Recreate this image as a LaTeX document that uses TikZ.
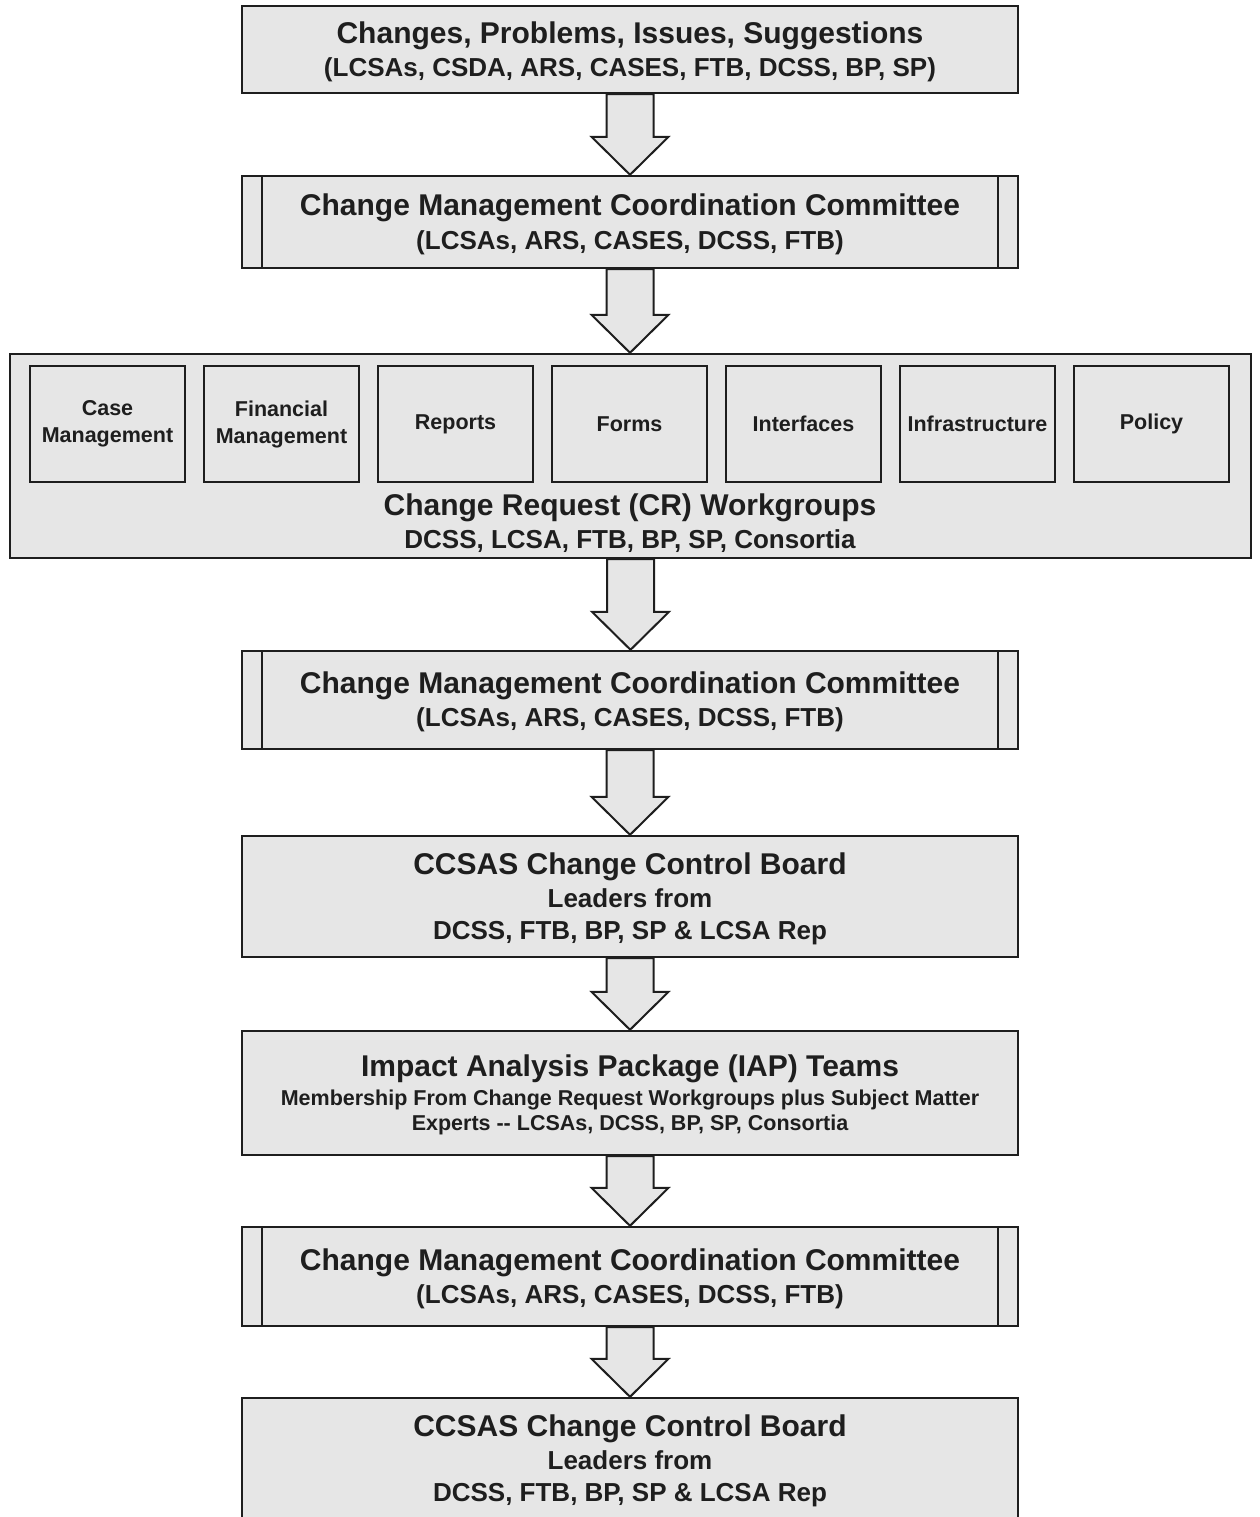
\documentclass[tikz,border=0pt]{standalone}
\usepackage{fontspec}
\setmainfont{Liberation Sans}
\usetikzlibrary{calc,positioning}
\definecolor{boxgray}{HTML}{E6E6E6}
\definecolor{linegray}{HTML}{1E1E1E}
\newcommand{\ttl}{\fontsize{30}{32}\selectfont\rule{0pt}{26pt}}
\newcommand{\subt}{\fontsize{26}{32}\selectfont}
\newcommand{\minor}{\fontsize{21.5}{32}\selectfont}
\tikzstyle{every picture}=[x=1pt, y=-1pt, line width=2.4pt, node distance=174pt]
\tikzstyle{stage}=[draw=linegray, fill=boxgray, text=linegray, minimum width=776pt,%
	align=center, inner sep=0pt, font=\bfseries\fontsize{26}{32}\selectfont]
\tikzstyle{cmcc}=[stage, minimum height=98pt, path picture={
	\draw[linegray] ([xshift=20pt]path picture bounding box.north west) -- ([xshift=20pt]path picture bounding box.south west)
		([xshift=-20pt]path picture bounding box.north east) -- ([xshift=-20pt]path picture bounding box.south east);}]
\tikzstyle{group}=[draw=linegray, fill=boxgray, text=linegray, minimum width=155pt,%
	minimum height=116pt, align=center, inner sep=0pt, font=\bfseries\fontsize{21.5}{27}\selectfont]
% big hollow arrow from one box down to the next
\newcommand{\flowarrow}[2]{%
	\draw[fill=boxgray, draw=linegray, line width=2pt] let \p1=(#1.south), \p2=(#2.north) in
		(\x1-23.5pt,\y1) -- (\x1-23.5pt,\y2+38pt) -- (\x1-38.5pt,\y2+38pt) -- (\x1,\y2)
		-- (\x1+38.5pt,\y2+38pt) -- (\x1+23.5pt,\y2+38pt) -- (\x1+23.5pt,\y1) -- cycle;}

\begin{document}
\begin{tikzpicture}
	\useasboundingbox (0,0) rectangle (1259,1517);
	\node[stage, minimum height=87pt] (issues) at (630,49.5) {\ttl Changes, Problems, Issues, Suggestions\\[1.6pt]
		\subt (LCSAs, CSDA, ARS, CASES, FTB, DCSS, BP, SP)};
	\node[cmcc, minimum height=92pt] (cmccA) at (630,222) {\ttl Change Management Coordination Committee\\[1.6pt]
		\subt (LCSAs, ARS, CASES, DCSS, FTB)};
	% workgroups
	\node[draw=linegray, fill=boxgray, minimum width=1241pt, minimum height=204pt] (crw) at (630.5,456) {};
	\node[group] (casemgmt) at (107.5,424) {Case\\Management};
	\node[group, right of=casemgmt] (finmgmt) {Financial\\Management};
	\node[group, right of=finmgmt] (reports) {Reports};
	\node[group, right of=reports] (forms) {Forms};
	\node[group, right of=forms] (interfaces) {Interfaces};
	\node[group, right of=interfaces] (infra) {Infrastructure};
	\node[group, right of=infra] (policy) {Policy};
	\node[text=linegray, font=\bfseries\fontsize{26}{32}\selectfont, align=center, inner sep=0pt] (crwtext) at (630,521)
		{\ttl Change Request (CR) Workgroups\\[1.6pt] \subt DCSS, LCSA, FTB, BP, SP, Consortia};
	\node[cmcc] (cmccB) at (630,700) {\ttl Change Management Coordination Committee\\[1pt]
		\subt (LCSAs, ARS, CASES, DCSS, FTB)};
	\node[stage, minimum height=121pt] (ccbA) at (630,896.5) {\ttl CCSAS Change Control Board\\[0.6pt]
		\subt Leaders from\\ \subt DCSS, FTB, BP, SP \& LCSA Rep};
	\node[stage, minimum height=124pt] (iap) at (630,1093) {\ttl Impact Analysis Package (IAP) Teams\\[-3pt]
		\minor Membership From Change Request Workgroups plus Subject Matter\\[-7pt]
		\minor Experts -{}- LCSAs, DCSS, BP, SP, Consortia};
	\node[cmcc, minimum height=99pt] (cmccC) at (630,1276.5) {\ttl Change Management Coordination Committee\\[0.5pt]
		\subt (LCSAs, ARS, CASES, DCSS, FTB)};
	\node[stage, minimum height=121pt] (ccbB) at (630,1458.5) {\ttl CCSAS Change Control Board\\[0.6pt]
		\subt Leaders from\\ \subt DCSS, FTB, BP, SP \& LCSA Rep};
	\flowarrow{issues}{cmccA}
	\flowarrow{cmccA}{crw}
	\flowarrow{crw}{cmccB}
	\flowarrow{cmccB}{ccbA}
	\flowarrow{ccbA}{iap}
	\flowarrow{iap}{cmccC}
	\flowarrow{cmccC}{ccbB}
\end{tikzpicture}
\end{document}
